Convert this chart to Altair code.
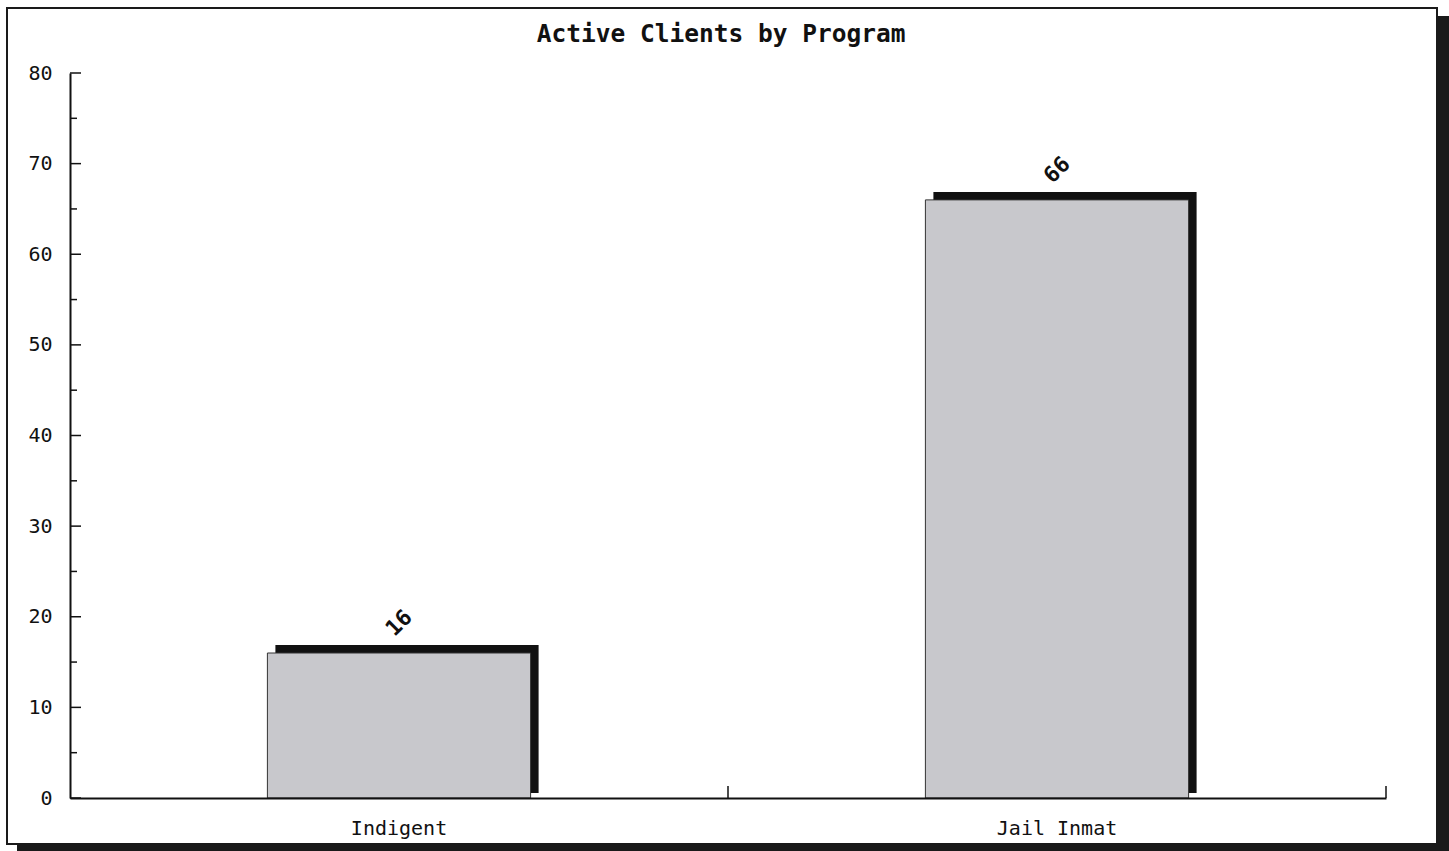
import altair as alt
import pandas as pd

# ---- data ----
programs = ["Indigent", "Jail Inmat"]
clients = [16, 66]
y_major = [0, 10, 20, 30, 40, 50, 60, 70, 80]
y_minor = [5, 15, 25, 35, 45, 55, 65, 75]

W, H = 1316, 725
FONT = "DejaVu Sans Mono"

bars_df = pd.DataFrame({"Program": programs, "Clients": clients})
major_df = pd.DataFrame({"v": y_major})
minor_df = pd.DataFrame({"v": y_minor})

yscale = alt.Scale(domain=[0, 80], nice=False, zero=True)
xscale = alt.Scale(paddingInner=0.6, paddingOuter=0.3)

x_axis = alt.Axis(
    labelAngle=0,
    ticks=False,
    domain=True,
    domainColor="#111111",
    domainWidth=2,
    labelFont=FONT,
    labelFontSize=20,
    labelColor="#111111",
    labelPadding=20,
    grid=False,
    zindex=2,
)
y_axis = alt.Axis(
    values=y_major,
    ticks=False,
    domain=True,
    domainColor="#111111",
    domainWidth=2,
    labelFont=FONT,
    labelFontSize=20,
    labelColor="#111111",
    labelPadding=18,
    grid=False,
    zindex=2,
)

one = pd.DataFrame({"k": [0]})

# outer frame with drop shadow (decoration)
frame_shadow = alt.Chart(one).mark_rect(color="#1a1a1a").encode(
    x=alt.value(-53), x2=alt.value(1379), y=alt.value(-57), y2=alt.value(780)
)
frame = alt.Chart(one).mark_rect(fill="white", stroke="#1a1a1a", strokeWidth=2).encode(
    x=alt.value(-63), x2=alt.value(1367), y=alt.value(-65), y2=alt.value(771)
)

base = alt.Chart(bars_df)

shadow = base.mark_bar(color="#111111", xOffset=8, yOffset=-8, y2Offset=-5).encode(
    x=alt.X("Program:N", scale=xscale, sort=programs, title=None, axis=x_axis),
    y=alt.Y("Clients:Q", scale=yscale, title=None, axis=y_axis),
    y2=alt.Y2(datum=0),
)

bars = base.mark_bar(color="#c8c8cc", stroke="#333333", strokeWidth=1).encode(
    x=alt.X("Program:N", scale=xscale, sort=programs, title=None),
    y=alt.Y("Clients:Q", scale=yscale, title=None),
)

labels = base.mark_text(
    angle=315,
    font=FONT,
    fontWeight="bold",
    fontSize=22,
    color="#111111",
    align="center",
    baseline="middle",
    yOffset=-30,
).encode(
    x=alt.X("Program:N", scale=xscale, sort=programs, title=None),
    y=alt.Y("Clients:Q", scale=yscale, title=None),
    text=alt.Text("Clients:Q"),
)

major_ticks = alt.Chart(major_df).mark_rule(color="#111111", strokeWidth=1.5).encode(
    y=alt.Y("v:Q", scale=yscale, title=None), x=alt.value(0), x2=alt.value(11)
)
minor_ticks = alt.Chart(minor_df).mark_rule(color="#111111", strokeWidth=1.5).encode(
    y=alt.Y("v:Q", scale=yscale, title=None), x=alt.value(0), x2=alt.value(7)
)
x_tick_mid = alt.Chart(one).mark_rule(color="#111111", strokeWidth=1.5).encode(
    x=alt.value(W / 2), y=alt.value(H), y2=alt.value(H - 12)
)
x_tick_end = alt.Chart(one).mark_rule(color="#111111", strokeWidth=1.5).encode(
    x=alt.value(W), y=alt.value(H), y2=alt.value(H - 12)
)

chart = (
    alt.layer(
        frame_shadow, frame, shadow, bars, labels,
        major_ticks, minor_ticks, x_tick_mid, x_tick_end,
    )
    .properties(
        width=W,
        height=H,
        padding={"left": 70, "top": 73, "right": 63, "bottom": 53},
        autosize=alt.AutoSizeParams(type="none"),
        title=alt.TitleParams(
            "Active Clients by Program",
            font=FONT,
            fontWeight="bold",
            fontSize=24.5,
            color="#111111",
            anchor="middle",
            offset=-40,
            dx=-7,
        ),
        background="white",
    )
    .configure_view(stroke=None)
)

chart.save("out.html", embed_options={"renderer": "svg", "actions": False})
